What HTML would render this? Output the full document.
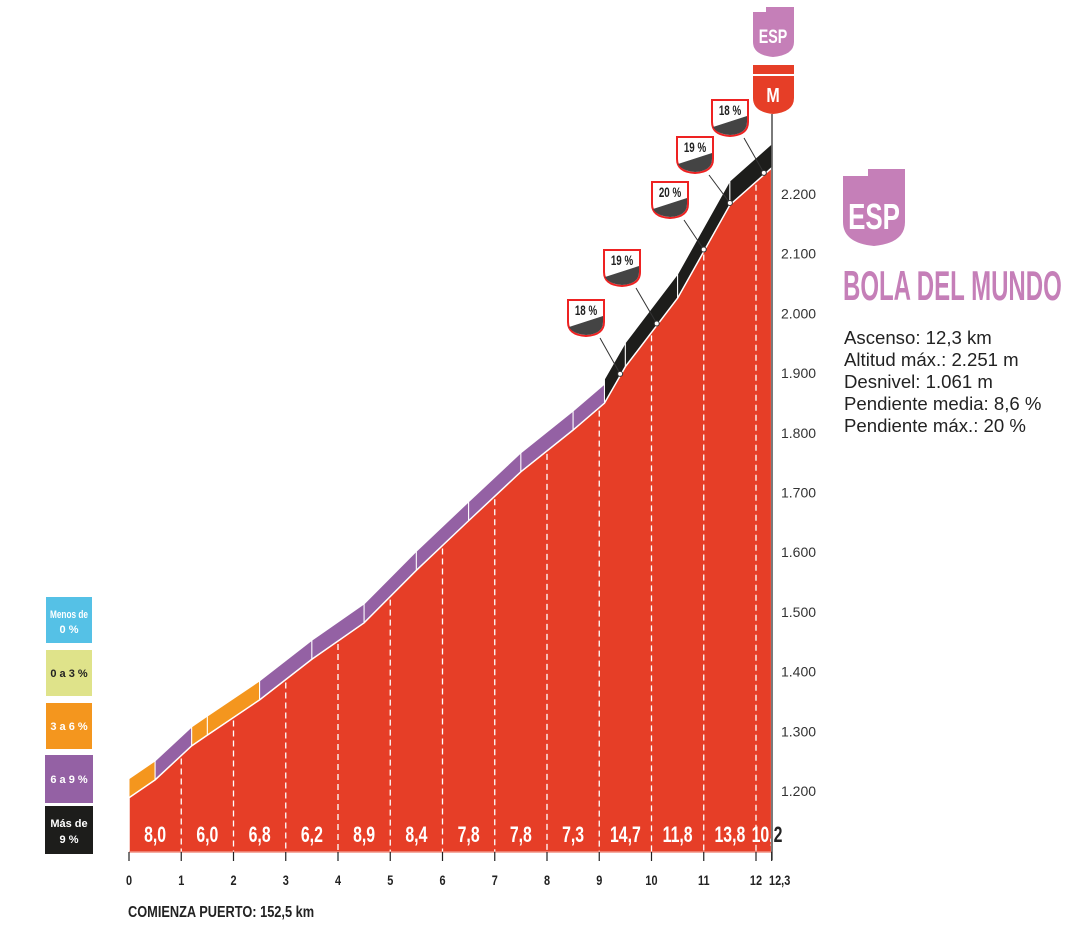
<!DOCTYPE html>
<html><head><meta charset="utf-8"><style>
body{margin:0;background:#fff;}
svg text{font-family:"Liberation Sans",sans-serif;}
</style></head><body>
<svg id="c" width="1087" height="938" viewBox="0 0 1087 938" xmlns="http://www.w3.org/2000/svg">
<g id="bands"></g><g id="area"></g><g id="grid"></g><g id="axis"></g><g id="marks"></g>
<!-- legend -->
<g font-weight="bold" font-size="11" text-anchor="middle">
<rect x="46" y="597" width="46" height="46" fill="#55c1e6"/>
<text x="69" y="618" fill="#fff" transform="translate(69 0) scale(0.75 1) translate(-69 0)">Menos de</text><text x="69" y="633" fill="#fff">0 %</text>
<rect x="46" y="650" width="46" height="46" fill="#dfe38a"/>
<text x="69" y="677" fill="#222">0 a 3 %</text>
<rect x="46" y="703" width="46" height="46" fill="#f4961e"/>
<text x="69" y="730" fill="#fff">3 a 6 %</text>
<rect x="45" y="755" width="48" height="48" fill="#9461a4"/>
<text x="69" y="783" fill="#fff">6 a 9 %</text>
<rect x="45" y="806" width="48" height="48" fill="#1d1d1b"/>
<text x="69" y="827" fill="#fff">Más de</text><text x="69" y="843" fill="#fff">9 %</text>
</g>
<text x="128" y="917" font-size="16" font-weight="bold" fill="#222" transform="translate(128 0) scale(0.8 1) translate(-128 0)">COMIENZA PUERTO: 152,5 km</text>
<!-- top icons -->
<g>
<path d="M753,12 L766,12 L766,7 L794,7 L794,42 Q794,55 773,57 Q753,55 753,42 Z" fill="#c57fb8"/>
<text x="773" y="43" font-size="19" font-weight="bold" fill="#fff" text-anchor="middle" transform="translate(773 0) scale(0.75 1) translate(-773 0)">ESP</text>
</g>
<g>
<rect x="753" y="65" width="41" height="9" fill="#e63e27"/>
<path d="M753,76 L794,76 L794,98 Q794,112 773,114 Q753,112 753,98 Z" fill="#e63e27"/>
<text x="773" y="102" font-size="20" font-weight="bold" fill="#fff" text-anchor="middle" transform="translate(773 0) scale(0.8 1) translate(-773 0)">M</text>
</g>
<line x1="772" y1="114" x2="772" y2="860" stroke="#222" stroke-width="1.2"/>
<!-- right panel -->
<g>
<path d="M843,176 L868,176 L868,169 L905,169 L905,222 Q905,243 874,246 Q843,243 843,222 Z" fill="#c57fb8"/>
<text x="874" y="229" font-size="36" font-weight="bold" fill="#fff" text-anchor="middle" transform="translate(874 0) scale(0.72 1) translate(-874 0)">ESP</text>
</g>
<text x="843" y="300" font-size="42" font-weight="bold" fill="#c57fb8" transform="translate(843 0) scale(0.572 1) translate(-843 0)">BOLA DEL MUNDO</text>
<g font-size="18.6" fill="#222">
<text x="844" y="344">Ascenso: 12,3 km</text>
<text x="844" y="366">Altitud máx.: 2.251 m</text>
<text x="844" y="388">Desnivel: 1.061 m</text>
<text x="844" y="410">Pendiente media: 8,6 %</text>
<text x="844" y="432">Pendiente máx.: 20 %</text>
</g>
</svg>
<script>
const kms=[0,0.5,1.2,1.5,2.5,3.5,4.5,5.5,6.5,7.5,8.5,9.1,9.5,10.5,11.5,12.3];
const elev=[1187,1217,1274,1292,1351,1419,1480,1568,1651,1733,1803,1848,1909,2024,2180,2242];
const bandCat=["o","p","o","o","p","p","p","p","p","p","p","b","b","b","b"];
const kmGrad=["8,0","6,0","6,8","6,2","8,9","8,4","7,8","7,8","7,3","14,7","11,8","13,8","10,2"];
const yTicks=[1200,1300,1400,1500,1600,1700,1800,1900,2000,2100,2200];
const xTicks=[0,1,2,3,4,5,6,7,8,9,10,11,12];
const steepKm=[9.4,10.1,11.0,11.5,12.15];
const steepPct=["18 %","19 %","20 %","19 %","18 %"];
const badgePos=[[586,300],[622,250],[670,182],[695,137],[730,100]];
const X=k=>129+k*52.25, Y=m=>790-(m-1200)*0.597, BASE=852;
const NS="http://www.w3.org/2000/svg";
function mk(t,a,p){const e=document.createElementNS(NS,t);for(const k in a)e.setAttribute(k,a[k]);p.appendChild(e);return e;}
const col={o:"#f4961e",p:"#9461a4",b:"#1d1d1b"};
const bands=document.getElementById('bands');
for(let i=0;i<kms.length-1;i++){
 const off=bandCat[i]=="b"?24:19;
 const x1=X(kms[i]),x2=X(kms[i+1]),y1=Y(elev[i]),y2=Y(elev[i+1]);
 const p=mk('polygon',{points:`${x1},${y1} ${x2},${y2} ${x2},${y2-off} ${x1},${y1-off}`,fill:col[bandCat[i]],stroke:"#fff","stroke-width":1},bands);
 
 
}
let pts=`${X(0)},${BASE} `+kms.map((k,i)=>`${X(k)},${Y(elev[i])}`).join(' ')+` ${X(12.3)},${BASE}`;
const ar=mk('polygon',{points:pts,fill:"#e63e27",stroke:"#fff","stroke-width":1.5},document.getElementById('area'));


function elevAt(k){for(let i=0;i<kms.length-1;i++){if(k<=kms[i+1])return elev[i]+(elev[i+1]-elev[i])*(k-kms[i])/(kms[i+1]-kms[i]);}return elev[elev.length-1];}
const grid=document.getElementById('grid'),axis=document.getElementById('axis');
for(let k=1;k<=12;k++){
 const g=mk('line',{x1:X(k),x2:X(k),y1:Y(elevAt(k))+3,y2:BASE,stroke:"#fff","stroke-width":1.3,"stroke-dasharray":"6,4"},grid);
 
 
}
const axisG=document.getElementById('axis');
kmGrad.forEach((g,i)=>{
 const last=i==12;
 const cx=last?X(12)+11:X(i+0.5);
 const t=mk('text',{x:cx,y:842,"font-size":22,"font-weight":"bold",fill:"#fff","text-anchor":"middle",transform:`translate(${cx} 0) scale(0.72 1) translate(${-cx} 0)`},last?document.getElementById('marks'):grid);
 if(last){t.innerHTML='10,<tspan fill="#222">2</tspan>';}else{t.textContent=g;}
 
 
});
const bl=mk('line',{x1:129,x2:772,y1:BASE,y2:BASE,stroke:"#e85a45","stroke-width":1},axisG);


xTicks.concat([12.3]).forEach(k=>{
 const l=mk('line',{x1:X(k),x2:X(k),y1:BASE,y2:861,stroke:"#222","stroke-width":1.2},axisG);
 
 
 const tx=X(k)+(k==12.3?8:0);
 const t=mk('text',{x:tx,y:885,"font-size":14,"font-weight":"bold",fill:"#222","text-anchor":"middle",transform:`translate(${tx} 0) scale(0.78 1) translate(${-tx} 0)`},axisG);
 t.textContent=k==12.3?"12,3":String(k);
 
 
});
yTicks.forEach(v=>{
 const t=mk('text',{x:781,y:Y(v)+6,"font-size":14,fill:"#333"},axisG);
 t.textContent=(v/1000).toFixed(3);
 
 
});
const marks=document.getElementById('marks');
steepKm.forEach((k,i)=>{
 const x=X(k),y=Y(elevAt(k))-2;const [bx,by]=badgePos[i];
 const l=mk('line',{x1:bx+14,y1:by+38,x2:x,y2:y,stroke:"#333","stroke-width":1},marks);
 
 
 const c=mk('circle',{cx:x,cy:y,r:2.5,fill:"#fff",stroke:"#333","stroke-width":1},marks);
 
 
 const b=mk('path',{d:`M${bx-18},${by} L${bx+18},${by} L${bx+18},${by+22} Q${bx+18},${by+35} ${bx},${by+36} Q${bx-18},${by+35} ${bx-18},${by+22} Z`,fill:"#fff",stroke:"#e22",
 "stroke-width":2},marks);
 
 
 mk('path',{d:`M${bx-17},${by+27} L${bx+17},${by+16} L${bx+17},${by+22} Q${bx+17},${by+34} ${bx},${by+35} Q${bx-13},${by+34} ${bx-17},${by+27} Z`,fill:"#444"},marks);
 const t=mk('text',{x:bx,y:by+15,"font-size":14,"font-weight":"bold",fill:"#222","text-anchor":"middle",transform:`translate(${bx} 0) scale(0.7 1) translate(${-bx} 0)`},marks);
 t.textContent=steepPct[i];
 
 
});
</script>
</body></html>
